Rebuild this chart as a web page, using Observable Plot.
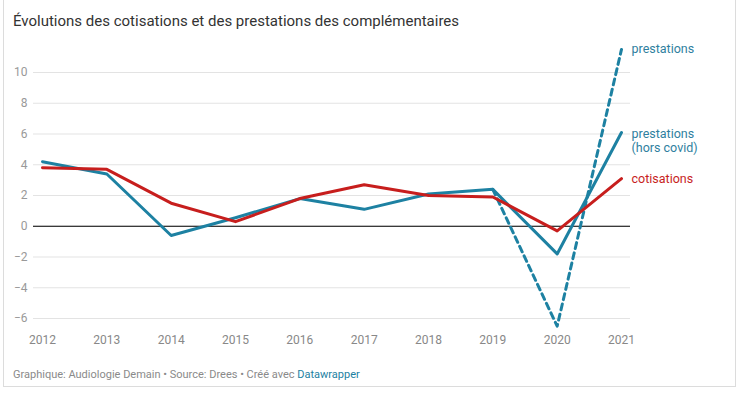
<!DOCTYPE html>
<html>
<head>
<meta charset="utf-8">
<script src="https://cdn.jsdelivr.net/npm/d3@7"></script>
<script src="https://cdn.jsdelivr.net/npm/@observablehq/plot@0.6"></script>
<style>
  body { margin: 0; background: #fff; font-family: Roboto, "Noto Sans", sans-serif; }
  #wrap { position: relative; width: 748px; height: 393px; overflow: hidden; }
  #frame { position: absolute; left: 3px; top: -2px; width: 733px; height: 389px; border: 1px solid #dcdcdc; box-sizing: border-box; }
  #title { position: absolute; left: 13px; top: 12px; font-size: 15px; color: #333; white-space: nowrap; }
  #chart { position: absolute; left: 0; top: 40px; }
  #footer { position: absolute; left: 13px; top: 368px; font-size: 11px; color: #8a8a8a; white-space: nowrap; }
  #footer span { color: #1d81a2; }
</style>
</head>
<body>
<div id="wrap">
  <div id="frame"></div>
  <div id="title">Évolutions des cotisations et des prestations des complémentaires</div>
  <div id="chart"></div>
  <div id="footer">Graphique: Audiologie Demain • Source: Drees • Créé avec <span>Datawrapper</span></div>
</div>
<script>
const years = [2012, 2013, 2014, 2015, 2016, 2017, 2018, 2019, 2020, 2021];
const prestationsHorsCovid = [4.2, 3.4, -0.6, 0.55, 1.8, 1.1, 2.1, 2.4, -1.8, 6.1];
const cotisations = [3.8, 3.7, 1.5, 0.3, 1.8, 2.7, 2.0, 1.9, -0.3, 3.1];
const prestationsYears = [2019, 2020, 2021];
const prestations = [2.4, -6.5, 11.5];
const yTicks = [-6, -4, -2, 0, 2, 4, 6, 8, 10];
const labels = ["prestations", "prestations", "(hors covid)", "cotisations"];

const teal = "#1d81a2";
const red = "#c71e1d";
const tealText = "#2f7fa0";

const horsCovid = years.map((x, i) => ({x, y: prestationsHorsCovid[i]}));
const cot = years.map((x, i) => ({x, y: cotisations[i]}));
const prest = prestationsYears.map((x, i) => ({x, y: prestations[i]}));

const fmt = d => d < 0 ? "\u2212" + Math.abs(d) : String(d);

const chart = Plot.plot({
  width: 748,
  height: 315,
  marginLeft: 33,
  marginRight: 118,
  marginTop: 32,
  marginBottom: 27,
  style: {fontFamily: "Roboto, sans-serif", fontSize: "12px", background: "transparent"},
  x: {domain: [2012, 2021], insetLeft: 9, insetRight: 9, label: null},
  y: {domain: [-6, 10], insetBottom: 10, label: null},
  marks: [
    Plot.gridY(yTicks, {stroke: "#e3e3e3", strokeOpacity: 1}),
    Plot.axisY(yTicks, {tickSize: 0, tickPadding: 6, tickFormat: fmt, fill: "#999", label: null}),
    Plot.axisX(years, {tickSize: 0, tickPadding: 7, tickFormat: d => String(d), fill: "#888", label: null}),
    Plot.ruleY([0], {stroke: "#000", strokeWidth: 1}),
    Plot.line(prest, {x: "x", y: "y", stroke: teal, strokeWidth: 3, strokeDasharray: "6,4.5"}),
    Plot.line(horsCovid, {x: "x", y: "y", stroke: teal, strokeWidth: 3}),
    Plot.line(cot, {x: "x", y: "y", stroke: red, strokeWidth: 3}),
    Plot.text([prest[2]], {x: "x", y: "y", text: () => labels[0], fill: tealText, dx: 10, dy: 0, textAnchor: "start", fontSize: 12.5}),
    Plot.text([horsCovid[9]], {x: "x", y: "y", text: () => labels[1], fill: tealText, dx: 10, dy: 2, textAnchor: "start", fontSize: 12.5}),
    Plot.text([horsCovid[9]], {x: "x", y: "y", text: () => labels[2], fill: tealText, dx: 10, dy: 16, textAnchor: "start", fontSize: 12.5}),
    Plot.text([cot[9]], {x: "x", y: "y", text: () => labels[3], fill: red, dx: 10, dy: 0, textAnchor: "start", fontSize: 12.5})
  ]
});
document.getElementById("chart").appendChild(chart);
</script>
</body>
</html>
